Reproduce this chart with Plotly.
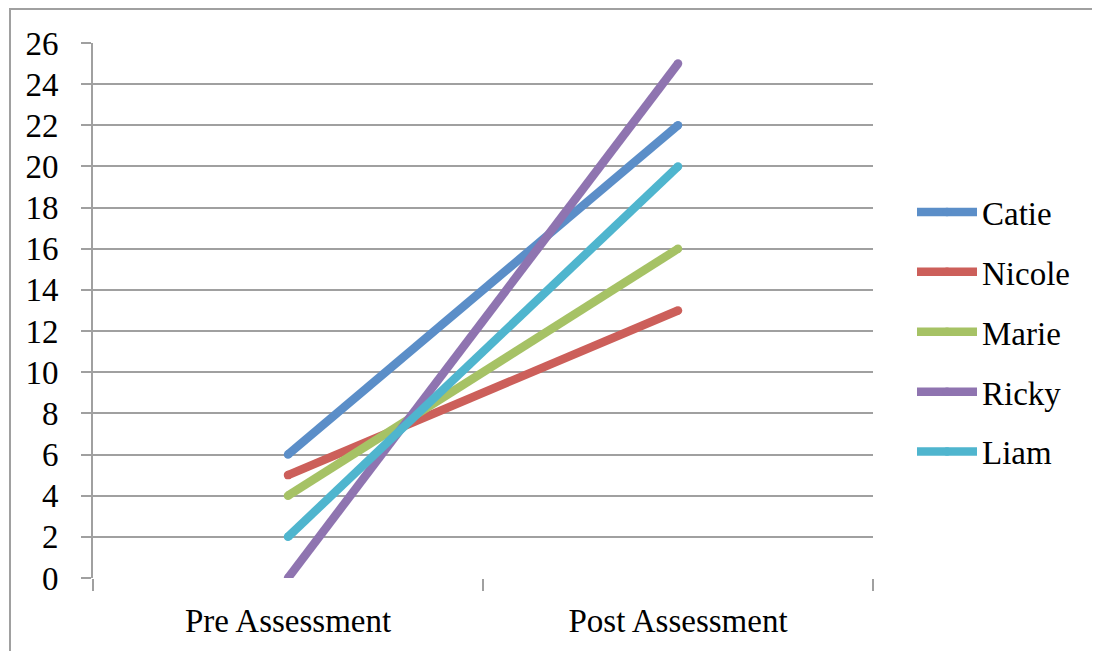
import plotly.graph_objects as go

categories = ["Pre Assessment", "Post Assessment"]
names = ["Catie", "Nicole", "Marie", "Ricky", "Liam"]
catie = [6, 22]
nicole = [5, 13]
marie = [4, 16]
ricky = [0, 25]
liam = [2, 20]
series = [catie, nicole, marie, ricky, liam]
colors = ["#5b8ec8", "#cc5f5a", "#a6c265", "#8f74b0", "#4fb5ce"]

FONT = "Liberation Serif"
# page body has an 8px margin; figure coordinates are offset accordingly
OFF = 8
W, H = 1100 - OFF, 651 - OFF
L, T = 93 - OFF, 43 - OFF
PW, PH = 780, 535

fig = go.Figure()
for n, v, c in zip(names, series, colors):
    fig.add_trace(go.Scatter(
        x=categories, y=v, name=n, mode="lines+markers",
        line=dict(color=c, width=8.5),
        marker=dict(color=c, size=8.5, line=dict(width=0)),
        legendgroup=n,
    ))

fig.update_layout(
    width=W, height=H,
    margin=dict(l=L, r=W - L - PW, t=T, b=H - T - PH, autoexpand=False),
    paper_bgcolor="white", plot_bgcolor="white",
    font=dict(family=FONT, size=33, color="black"),
    showlegend=True,
    legend=dict(x=(918 - 6 - 93) / PW, y=(578 - 332) / PH, yanchor="middle", xanchor="left",
                font=dict(family=FONT, size=33), tracegroupgap=14,
                itemwidth=60, bgcolor="rgba(0,0,0,0)"),
    xaxis=dict(type="category", range=[-0.5, 1.5], showgrid=False,
               showline=False, zeroline=False,
               ticks="outside", tickson="boundaries", ticklen=12, tickwidth=2,
               tickcolor="#a0a0a0", ticklabelstandoff=20),
    yaxis=dict(range=[0, 26], dtick=2, showgrid=True, gridcolor="#a0a0a0",
               gridwidth=2, zeroline=False, showline=True, linecolor="#a0a0a0",
               linewidth=2, ticks="outside", ticklen=10, tickwidth=2,
               tickcolor="#a0a0a0", ticklabelstandoff=16),
)
# outer chart border (drawn within the figure bounds)
fig.add_shape(type="rect", xref="paper", yref="paper",
              x0=(10 - 93) / PW, x1=(1097 - 93) / PW,
              y0=-0.3, y1=(578 - 9) / PH,
              line=dict(color="#a0a0a0", width=2), layer="below")
fig.write_html("out.html")
